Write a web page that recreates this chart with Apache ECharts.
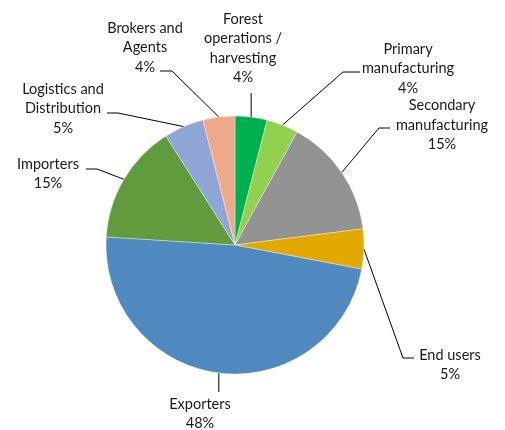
<!DOCTYPE html>
<html>
<head>
<meta charset="utf-8">
<script src="https://cdn.jsdelivr.net/npm/echarts@6/dist/echarts.min.js"></script>
<style>
  html, body { margin: 0; padding: 0; background: #fff; }
  #chart { width: 505px; height: 430px; }
</style>
</head>
<body>
<div id="chart"></div>
<script>
// Supply-chain segments, clockwise from 12 o'clock
var categories = [
  'Forest\noperations /\nharvesting',
  'Primary\nmanufacturing',
  'Secondary\nmanufacturing',
  'End users',
  'Exporters',
  'Importers',
  'Logistics and\nDistribution',
  'Brokers and\nAgents'
];
var shares = [4, 4, 15, 5, 48, 15, 5, 4];   // percent of total
var colors = ['#00B050', '#92D050', '#939393', '#E2AA00', '#4F89BF', '#629A3E', '#8FA5D5', '#F0A88A'];

// Label placement: label centre, then the leader's end point and elbow
// (null elbow = straight leader coming off the slice edge vertically)
var labelPlacement = [
  { cx: 243, cy: 48.5, end: [null, 93],  elbow: null },
  { cx: 408, cy: 68.5, end: [360, 72],   elbow: [343, 72] },
  { cx: 442, cy: 125,  end: [390, 128],  elbow: [379, 128] },
  { cx: 450, cy: 365,  end: [414, 358],  elbow: [403, 358] },
  { cx: 200, cy: 414,  end: [null, 392], elbow: null },
  { cx: 48,  cy: 174,  end: [86, 169],   elbow: [97, 169] },
  { cx: 63,  cy: 108.5, end: [107, 113], elbow: [118, 113] },
  { cx: 145, cy: 47.5, end: [160, 71],   elbow: [172, 71] }
];

var data = categories.map(function (name, i) {
  return { name: name, value: shares[i], itemStyle: { color: colors[i] } };
});

var chart = echarts.init(document.getElementById('chart'), null, { renderer: 'canvas' });
chart.setOption({
  animation: false,
  backgroundColor: '#ffffff',
  series: [{
    type: 'pie',
    center: [235, 245],
    radius: 129,
    startAngle: 90,
    clockwise: true,
    avoidLabelOverlap: false,
    data: data,
    itemStyle: { borderColor: 'rgba(255,255,255,0.6)', borderWidth: 0.6 },
    label: {
      show: true,
      position: 'outside',
      formatter: '{b}\n{c}%',
      fontFamily: 'Lato, "Open Sans", sans-serif',
      fontSize: 14.5,
      lineHeight: 19.5,
      color: '#1a1a1a',
      align: 'center'
    },
    labelLine: {
      show: true,
      length: 10,
      length2: 10,
      smooth: false,
      lineStyle: { color: '#000', width: 1 }
    },
    emphasis: { disabled: true },
    labelLayout: function (params) {
      var p = labelPlacement[params.dataIndex];
      var start = params.labelLinePoints ? params.labelLinePoints[0] : null;
      var pts;
      if (start) {
        if (p.elbow) {
          pts = [start, p.elbow, p.end];
        } else {
          pts = [start, [start[0], p.end[1]], [start[0], p.end[1]]];
        }
      }
      return {
        x: p.cx,
        y: p.cy,
        align: 'center',
        verticalAlign: 'middle',
        hideOverlap: false,
        labelLinePoints: pts
      };
    }
  }]
});
</script>
</body>
</html>
